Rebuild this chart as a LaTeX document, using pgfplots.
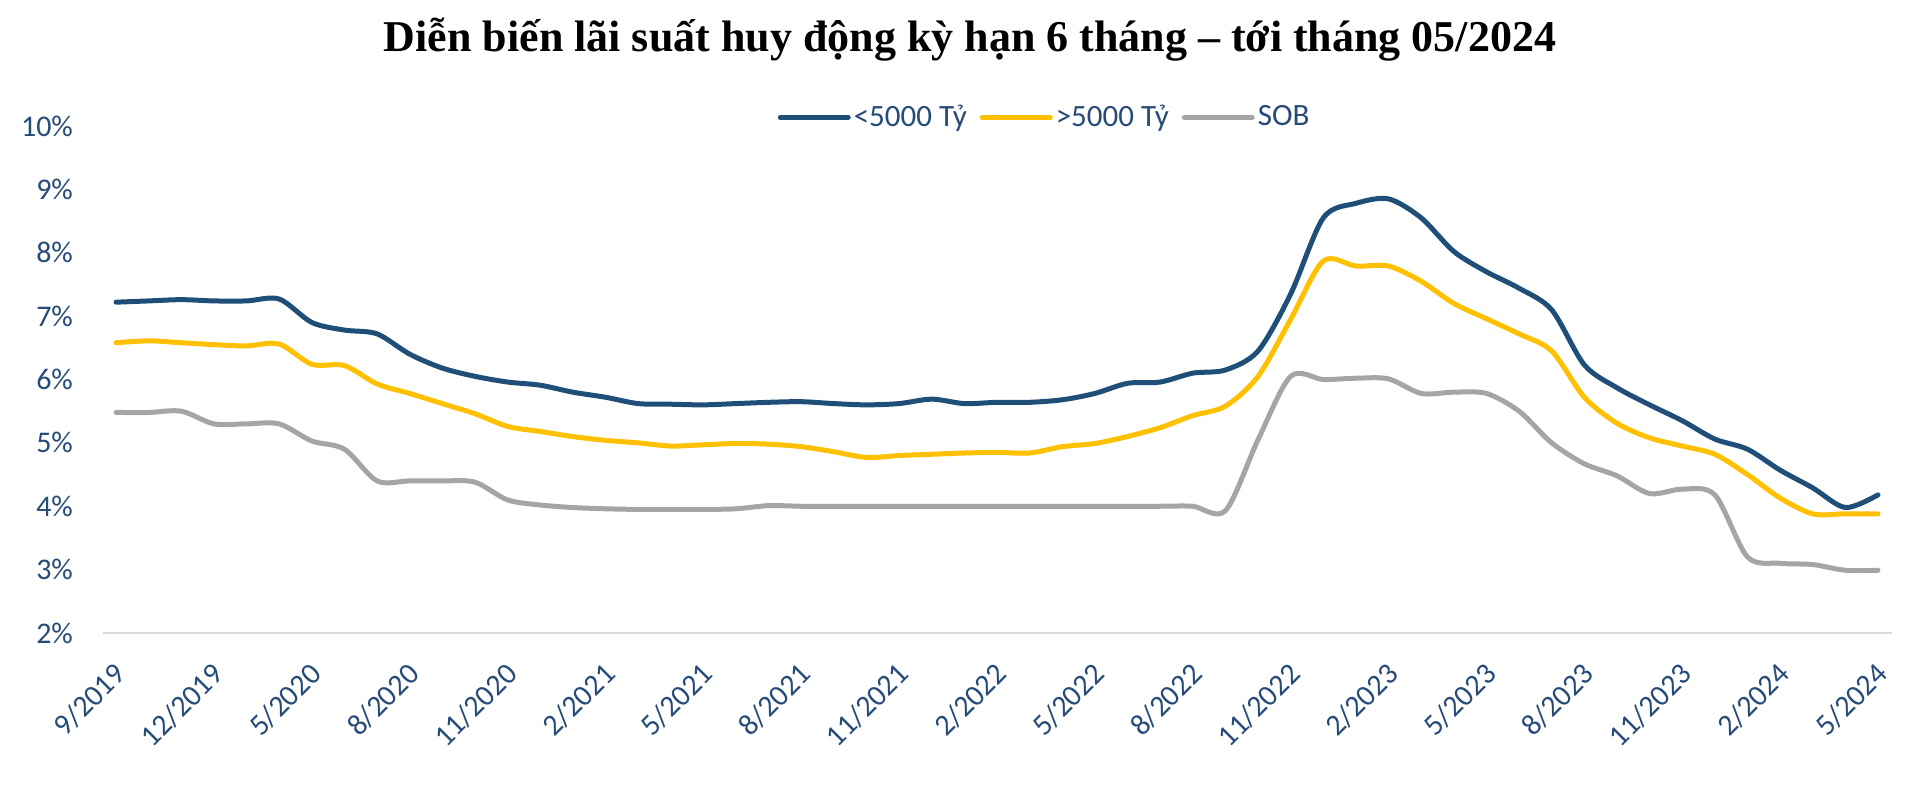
\documentclass[border=0pt]{standalone}
\usepackage{pgfplots}
\usepackage{pgfplotstable}
\pgfplotsset{compat=1.18}
\usepackage{fontspec}
\setmainfont{Carlito}
\newfontfamily\titlefont{Liberation Serif}
\definecolor{navy}{HTML}{1F4E79}
\definecolor{gold}{HTML}{FFC000}
\definecolor{sob}{HTML}{A5A5A5}
\definecolor{textblue}{HTML}{264B78}
\definecolor{gridgray}{HTML}{D9D9D9}

\pgfplotstableread{
i a b c
0 7.22 6.58 5.48
1 7.24 6.61 5.48
2 7.26 6.58 5.50
3 7.24 6.55 5.30
4 7.24 6.53 5.30
5 7.27 6.56 5.30
6 6.90 6.24 5.03
7 6.78 6.22 4.90
8 6.72 5.93 4.40
9 6.40 5.78 4.40
10 6.18 5.62 4.40
11 6.05 5.46 4.38
12 5.96 5.26 4.10
13 5.91 5.18 4.02
14 5.80 5.10 3.98
15 5.72 5.04 3.96
16 5.62 5.00 3.95
17 5.61 4.95 3.95
18 5.60 4.97 3.95
19 5.62 4.99 3.96
20 5.64 4.98 4.01
21 5.65 4.94 4.00
22 5.62 4.86 4.00
23 5.60 4.77 4.00
24 5.62 4.80 4.00
25 5.69 4.82 4.00
26 5.62 4.84 4.00
27 5.64 4.85 4.00
28 5.64 4.84 4.00
29 5.68 4.94 4.00
30 5.78 4.99 4.00
31 5.94 5.10 4.00
32 5.96 5.24 4.00
33 6.10 5.43 4.00
34 6.15 5.58 3.93
35 6.45 6.05 5.05
36 7.35 6.95 6.05
37 8.55 7.87 6.00
38 8.78 7.79 6.02
39 8.85 7.79 6.01
40 8.55 7.55 5.78
41 8.02 7.20 5.80
42 7.70 6.96 5.78
43 7.44 6.72 5.50
44 7.10 6.45 5.00
45 6.23 5.72 4.67
46 5.87 5.31 4.48
47 5.60 5.08 4.20
48 5.35 4.95 4.27
49 5.06 4.82 4.18
50 4.90 4.50 3.20
51 4.57 4.13 3.10
52 4.29 3.88 3.08
53 3.98 3.88 2.99
54 4.18 3.88 2.99
}\rates

\begin{document}
\begin{tikzpicture}[x=1pt,y=1pt]
\useasboundingbox (0,0) rectangle (960,393.5);
\node[font=\titlefont\bfseries\fontsize{22}{24}\selectfont, anchor=base, inner sep=0pt] at (485,367.5) {Diễn biến lãi suất huy động kỳ hạn 6 tháng – tới tháng 05/2024};
\begin{axis}[
  at={(51.5pt,77pt)}, anchor=south west,
  scale only axis, width=894.5pt, height=253.5pt,
  xmin=-0.4, xmax=54.43, ymin=2, ymax=10,
  axis x line*=bottom, axis y line*=left,
  x axis line style={draw=gridgray, line width=1.3pt, -},
  y axis line style={draw=none},
  major tick length=0pt,
  xtick={0,3,...,54},
  xticklabels={9/2019,12/2019,5/2020,8/2020,11/2020,2/2021,5/2021,8/2021,11/2021,2/2022,5/2022,8/2022,11/2022,2/2023,5/2023,8/2023,11/2023,2/2024,5/2024},
  xticklabel style={xshift=4.7pt, yshift=-15.5pt, rotate=45, anchor=east, font=\fontsize{15}{15}\selectfont, text=textblue},
  ytick={2,3,...,10},
  yticklabels={2\%,3\%,4\%,5\%,6\%,7\%,8\%,9\%,10\%},
  yticklabel style={anchor=east, xshift=-11.5pt, font=\fontsize{15}{15}\selectfont, text=textblue},
  legend columns=-1,
  legend style={draw=none, fill=none, at={(0.5266,1.017)}, anchor=center,
    font=\fontsize{15.5}{15.5}\selectfont, text=textblue,
    /tikz/every even column/.append style={column sep=5pt},
    nodes={inner sep=1.5pt}},
  legend image code/.code={\draw[#1, line width=2.5pt] (0pt,0pt) -- (34pt,0pt);},
  every axis plot/.append style={line width=2.5pt, smooth, tension=0.5, line join=round, line cap=round},
]
\addplot[navy] table[x=i, y=a] {\rates};
\addlegendentry{<5000 Tỷ}
\addplot[gold] table[x=i, y=b] {\rates};
\addlegendentry{>5000 Tỷ}
\addplot[sob] table[x=i, y=c] {\rates};
\addlegendentry{SOB}
\end{axis}
\end{tikzpicture}
\end{document}
